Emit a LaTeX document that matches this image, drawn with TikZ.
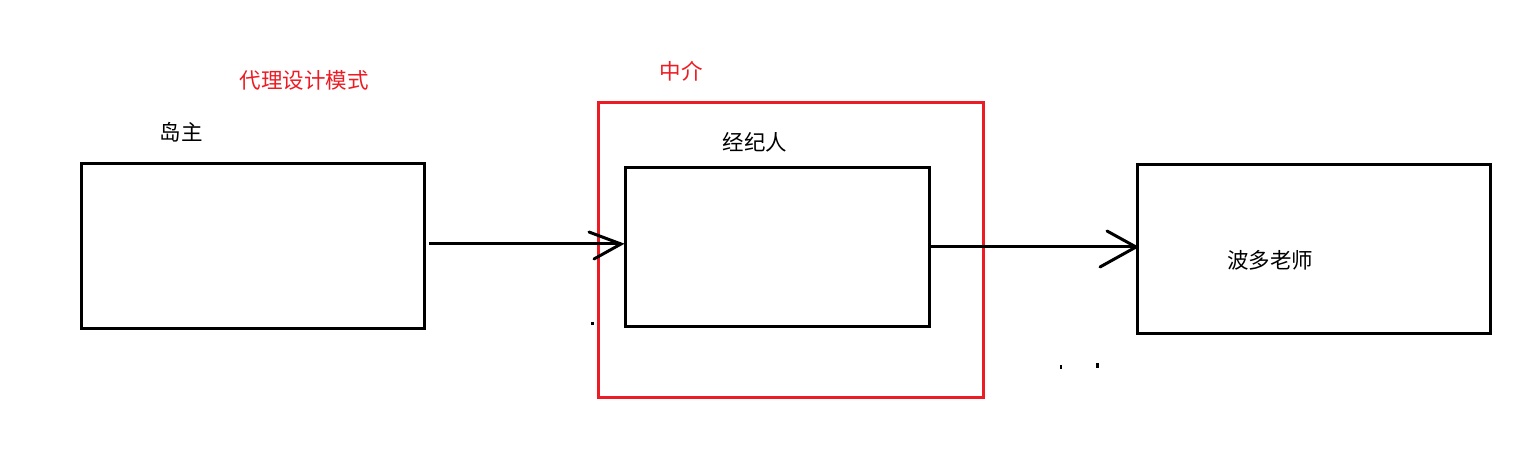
\documentclass[tikz,border=0pt]{standalone}
\usepackage{fontspec}
\newfontfamily\cjk{Noto Sans CJK SC}
\definecolor{pred}{HTML}{ED1C24}
\begin{document}
\begin{tikzpicture}[x=1pt,y=-1pt,
  box/.style={draw=black,line width=3pt},
  redbox/.style={draw=pred,line width=2.6pt},
  lbl/.style={font=\cjk\fontsize{21.5}{24}\selectfont,text=black,inner sep=0pt},
  redlbl/.style={lbl,text=pred},
  conn/.style={line width=3pt,draw=black},
  tipline/.style={line width=3pt,draw=black,line cap=round},
  dotmark/.style={fill=black,inner sep=0pt,minimum size=3pt}]
\useasboundingbox (0,0) rectangle (1536,462);
\fill[white] (0,0) rectangle (1536,462);
% boxes
\node[box,minimum width=343pt,minimum height=165pt,inner sep=0pt,anchor=north west] (dz) at (80,162) {};
\node[redbox,minimum width=385pt,minimum height=295pt,inner sep=0pt,anchor=north west] (zj) at (597,101) {};
\node[box,minimum width=304pt,minimum height=159pt,inner sep=0pt,anchor=north west] (jjr) at (624,166) {};
\node[box,minimum width=353pt,minimum height=169pt,inner sep=0pt,anchor=north west] (bd) at (1136,163) {};
% labels
\node[redlbl] (title) at (304,80) {代理设计模式};
\node[redlbl] (zjl) at (681,71) {中介};
\node[lbl] (dzl) at (181,132) {岛主};
\node[lbl] (jjrl) at (755,142) {经纪人};
\node[lbl] (bdl) at (1270,260) {波多老师};
% connectors
\coordinate (a1s) at (429,244);
\coordinate (a1e) at (621,244);
\draw[conn] (a1s) -- (a1e);
\coordinate (a1u) at (589,232);
\coordinate (a1d) at (594,259);
\draw[tipline] (a1u) -- (a1e) -- (a1d);
\coordinate (a2s) at (930,247);
\coordinate (a2e) at (1136,247);
\draw[conn] (a2s) -- (a2e);
\coordinate (a2u) at (1107,231);
\coordinate (a2d) at (1100,267);
\draw[tipline] (a2u) -- (a2e) -- (a2d);
% stray dots
\node[dotmark] (d1) at (592,323) {};
\node[dotmark,minimum height=4pt,minimum width=2.5pt] (d2) at (1061,367) {};
\node[dotmark,minimum height=5pt,minimum width=3pt] (d3) at (1097,365) {};
\end{tikzpicture}
\end{document}
